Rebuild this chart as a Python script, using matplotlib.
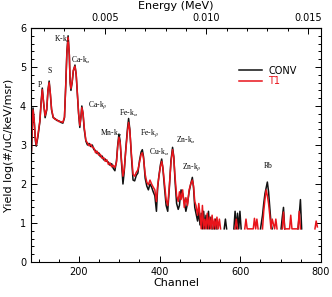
import numpy as np
import matplotlib
matplotlib.use("Agg")
import matplotlib.pyplot as plt
from matplotlib.ticker import MultipleLocator, FixedLocator, FormatStrFormatter

plt.rcParams['font.family'] = 'DejaVu Sans'
plt.rcParams['mathtext.fontset'] = 'stix'

# Spectrum (dense part), channels and log yields
channel = [82, 84, 86, 89, 92, 94, 98, 103, 106, 109, 112, 116, 120, 123, 126, 129, 132,
           136, 140, 145, 150, 155, 160, 164, 167, 170, 173, 176, 178, 180, 183, 186, 190,
           193, 196, 199, 202, 205, 207, 210, 213, 217, 221, 225, 229, 233, 237, 241, 245,
           249, 253, 257, 261, 265, 269, 273, 277, 281, 285, 289, 293, 296, 299, 302, 305,
           309, 312, 316, 320, 323, 326, 330, 334, 338, 342, 346, 350, 354, 357, 360, 364,
           368, 372, 376, 380, 384, 388, 392, 395, 398, 402, 405, 408, 412, 416, 420, 424,
           428, 432, 435, 438, 442, 446, 449, 453, 457, 461, 465, 469, 473, 477, 481, 484,
           487, 490, 494, 497]
conv = [2.80, 3.40, 3.95, 3.60, 3.10, 2.97, 3.20, 3.60, 4.10, 4.46, 4.10, 3.70, 3.90, 4.40,
        4.64, 4.30, 3.90, 3.70, 3.68, 3.63, 3.62, 3.58, 3.56, 3.70, 4.50, 5.40, 5.80, 5.30,
        4.60, 4.40, 4.60, 4.90, 5.05, 4.80, 4.30, 3.80, 3.45, 3.75, 4.00, 3.80, 3.40, 3.10,
        3.00, 3.04, 2.96, 3.00, 2.88, 2.86, 2.78, 2.80, 2.70, 2.72, 2.62, 2.64, 2.58, 2.56,
        2.48, 2.52, 2.40, 2.34, 2.60, 3.00, 3.28, 3.10, 2.60, 2.00, 2.30, 2.90, 3.40, 3.68,
        3.40, 2.70, 2.10, 2.08, 2.22, 2.28, 2.60, 2.82, 2.88, 2.70, 2.15, 1.95, 1.85, 2.00,
        1.92, 1.80, 1.70, 1.30, 1.90, 2.20, 2.50, 2.64, 2.40, 1.90, 1.45, 1.30, 1.90, 2.60,
        2.94, 2.70, 2.10, 1.50, 1.35, 1.45, 1.85, 1.75, 1.55, 1.30, 1.50, 1.80, 2.00, 2.17,
        1.90, 1.40, 1.25, 1.05, 1.30]
t1 = [2.85, 3.45, 3.90, 3.62, 3.15, 3.00, 3.25, 3.62, 4.05, 4.42, 4.12, 3.75, 3.92, 4.38,
      4.60, 4.32, 3.92, 3.72, 3.66, 3.65, 3.60, 3.60, 3.58, 3.72, 4.48, 5.35, 5.76, 5.32,
      4.62, 4.45, 4.62, 4.92, 5.02, 4.82, 4.32, 3.82, 3.50, 3.72, 3.96, 3.82, 3.45, 3.12,
      3.05, 2.98, 3.02, 2.94, 2.92, 2.80, 2.84, 2.74, 2.76, 2.66, 2.68, 2.58, 2.62, 2.50,
      2.54, 2.44, 2.48, 2.42, 2.56, 2.96, 3.20, 3.06, 2.66, 2.20, 2.36, 2.86, 3.32, 3.58,
      3.38, 2.76, 2.25, 2.20, 2.30, 2.36, 2.55, 2.76, 2.80, 2.66, 2.25, 2.05, 1.98, 2.10,
      2.00, 1.92, 1.85, 1.55, 1.95, 2.18, 2.45, 2.58, 2.42, 2.00, 1.60, 1.45, 1.95, 2.55,
      2.88, 2.68, 2.20, 1.70, 1.55, 1.80, 1.60, 1.85, 1.40, 1.65, 1.45, 1.85, 2.00, 2.10,
      1.95, 1.55, 1.45, 1.20, 1.50]

# Noisy tail (gaps where counts are zero)
tail_ch = [500, 503, 506, 509, 512, 515, 518, 521, 524, 527, 530, 533, 536, 539, 542, 545,
           548, 551, 554, 560, 563, 566, 569, 584, 587, 590, 593, 596, 599, 602, 605, 611,
           614, 617, 632, 635, 638, 641, 644, 650, 655, 658, 661, 664, 667, 670, 673, 676,
           679, 685, 688, 691, 701, 704, 707, 710, 722, 725, 728, 743, 746, 749, 752, 755,
           785, 788, 791]
tail_conv = [0.95, 1.25, 0.85, 1.30, 0.85, 1.20, 0.85, 1.30, 0.85, 1.15, 0.85, np.nan, 0.85,
             1.10, 0.85, np.nan, np.nan, np.nan, np.nan, 0.85, 1.10, 0.85, np.nan, 0.85,
             1.30, 0.85, 1.25, 0.85, 1.30, 0.85, np.nan, np.nan, np.nan, np.nan, np.nan,
             np.nan, np.nan, np.nan, np.nan, 0.85, 1.20, 1.50, 1.75, 1.90, 2.05, 1.80, 1.40,
             1.00, 0.85, np.nan, np.nan, np.nan, 0.85, 1.15, 1.40, 0.85, np.nan, np.nan,
             np.nan, 0.85, 1.20, 1.60, 0.85, np.nan, np.nan, np.nan, np.nan]
tail_t1 = [1.20, 0.85, 1.45, 0.85, 1.10, 0.85, 1.25, 0.85, 1.15, 0.85, 1.20, 0.85, 1.10,
           0.85, 1.15, 0.85, 1.10, 0.85, np.nan, np.nan, np.nan, np.nan, np.nan, np.nan,
           0.85, 1.10, 0.85, np.nan, np.nan, np.nan, np.nan, 0.85, 1.10, 0.85, 0.85, 1.12,
           0.85, 1.10, 0.85, np.nan, 0.85, 1.30, 1.60, 1.85, 1.70, 1.50, 1.20, 0.85, 1.10,
           0.85, 1.10, 0.85, np.nan, 0.85, 1.28, 0.85, 0.85, 1.20, 0.85, 0.85, 1.30, 0.85,
           np.nan, np.nan, 0.85, 1.05, 0.90]

# Peak labels: (text, channel, yield)
peak_text = ['P', 'S', 'K-k$_\\alpha$', 'Ca-k$_\\alpha$', 'Ca-k$_\\beta$', 'Mn-k$_\\alpha$',
             'Fe-k$_\\alpha$', 'Fe-k$_\\beta$', 'Cu-k$_\\alpha$', 'Zn-k$_\\alpha$',
             'Zn-k$_\\beta$', 'Rb']
peak_ch = [104, 126, 160, 204, 247, 279, 323, 375, 398, 464, 481, 669]
peak_y = [4.54, 4.90, 5.72, 5.18, 4.03, 3.30, 3.82, 3.30, 2.80, 3.13, 2.44, 2.46]

# Energy ticks on the top axis (MeV)
energy_ticks = [0.005, 0.010, 0.015]

x_all = np.array(channel + tail_ch, dtype=float)
conv_all = np.array(conv + tail_conv, dtype=float)
t1_all = np.array(t1 + tail_t1, dtype=float)

fig = plt.figure(figsize=(3.32, 2.97), dpi=100)
ax = fig.add_axes([31/332, 35/297, 290/332, 234/297])

ax.plot(x_all, conv_all, color='#111111', lw=1.1, label='CONV')
ax.plot(x_all, t1_all, color='#e8141b', lw=1.1, label='T1')

for s, cx, cy in zip(peak_text, peak_ch, peak_y):
    ax.text(cx, cy, s, fontsize=5.5, family='Liberation Serif', ha='center', va='center')

ax.set_xlim(81, 800)
ax.set_ylim(0, 6)
ax.xaxis.set_major_locator(MultipleLocator(200))
ax.xaxis.set_minor_locator(MultipleLocator(50))
ax.yaxis.set_major_locator(MultipleLocator(1))
ax.yaxis.set_minor_locator(MultipleLocator(0.2))
ax.tick_params(which='both', direction='in', right=True, labelsize=7, width=0.7)
ax.tick_params(which='major', length=4)
ax.tick_params(which='minor', length=2)
for sp in ax.spines.values():
    sp.set_linewidth(0.8)

ax.set_xlabel('Channel', fontsize=8, labelpad=1)
ax.set_ylabel('Yield log(#/uC/keV/msr)', fontsize=8, labelpad=4)

top = ax.secondary_xaxis('top', functions=(lambda c: (c - 12) / 50400.0,
                                           lambda e: e * 50400.0 + 12))
top.xaxis.set_major_locator(FixedLocator(energy_ticks))
top.xaxis.set_minor_locator(FixedLocator([0.002, 0.003, 0.004, 0.006, 0.007, 0.008,
                                          0.009, 0.011, 0.012, 0.013, 0.014]))
top.xaxis.set_major_formatter(FormatStrFormatter('%.3f'))
top.tick_params(which='both', direction='in', labelsize=7, width=0.7)
top.tick_params(which='major', length=4)
top.tick_params(which='minor', length=2)
top.set_xlabel('Energy (MeV)', fontsize=8, labelpad=3)

leg = ax.legend(loc='upper left', bbox_to_anchor=(0.70, 0.86), frameon=False, fontsize=7,
                handlelength=2.4, labelspacing=0.05, handletextpad=0.6, borderpad=0)
leg.get_texts()[1].set_color('#e8141b')

fig.savefig('out.png', dpi=100)
